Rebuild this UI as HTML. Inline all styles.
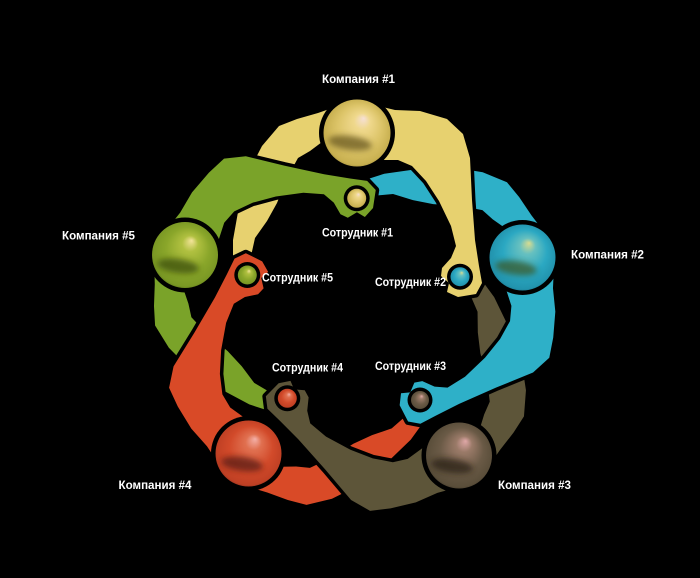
<!DOCTYPE html>
<html><head><meta charset="utf-8"><style>
html,body{margin:0;padding:0;background:#000;}
svg{display:block;}
text{font-family:"Liberation Sans","DejaVu Sans",sans-serif;font-weight:bold;font-size:11.5px;fill:#fff;}
</style></head><body>
<svg width="700" height="578" viewBox="0 0 700 578" xmlns="http://www.w3.org/2000/svg">
<rect width="700" height="578" fill="#000"/>
<defs>
  <path id="ccw" d="M338,106 L318,113 L297,119 L279,126 L262,146 L247,175 L238,212 L233,240 L233,256 L251,256 L255,238 L267,221 L277,203 L287,178 L298,158 L310,151 L322,142 L338,140 Z"/>
  <path id="cwY" d="M370,104 L395,110 L420,111 L447,119 L463,134 L470,158 L472,200 L475,240 L479,266 L482,283 L476,294 L458,297 L447,292 L449,283 L441,276 L442,268 L451,258 L456,246 L451,226 L439,201 L426,181 L412,166 L398,160 L380,160 Z"/>
  <path id="cw" d="M370,106 L394,115 L417,120 L441,130 L459,140 L468,160 L471,200 L475,240 L479,266 L482,283 L476,294 L458,297 L447,292 L449,283 L441,276 L442,268 L451,258 L456,246 L451,226 L439,201 L426,181 L412,166 L398,160 L380,160 Z"/>
  <filter id="bl" x="-50%" y="-50%" width="200%" height="200%"><feGaussianBlur stdDeviation="3"/></filter>
  <radialGradient id="gy" fx="0.6" fy="0.28" r="0.55">
    <stop offset="0" stop-color="#f6e0d6"/><stop offset="0.22" stop-color="#efd88c"/><stop offset="0.6" stop-color="#dcc468"/><stop offset="0.9" stop-color="#c8b050"/><stop offset="1" stop-color="#8f7e32"/>
  </radialGradient>
  <radialGradient id="gc" fx="0.6" fy="0.28" r="0.55">
    <stop offset="0" stop-color="#d8dc90"/><stop offset="0.22" stop-color="#66c0c0"/><stop offset="0.6" stop-color="#2ba8c2"/><stop offset="0.9" stop-color="#2294ae"/><stop offset="1" stop-color="#1a6a80"/>
  </radialGradient>
  <radialGradient id="gb" fx="0.6" fy="0.28" r="0.55">
    <stop offset="0" stop-color="#e0a8a8"/><stop offset="0.22" stop-color="#9a7a68"/><stop offset="0.6" stop-color="#6a5a46"/><stop offset="0.9" stop-color="#5a4e3a"/><stop offset="1" stop-color="#3a3224"/>
  </radialGradient>
  <radialGradient id="gr" fx="0.6" fy="0.28" r="0.55">
    <stop offset="0" stop-color="#f4b0a8"/><stop offset="0.22" stop-color="#e07050"/><stop offset="0.6" stop-color="#d24a2a"/><stop offset="0.9" stop-color="#c04024"/><stop offset="1" stop-color="#802a18"/>
  </radialGradient>
  <radialGradient id="gg" fx="0.6" fy="0.28" r="0.55">
    <stop offset="0" stop-color="#f4e49a"/><stop offset="0.22" stop-color="#b0c040"/><stop offset="0.6" stop-color="#8aa62a"/><stop offset="0.9" stop-color="#7a9824"/><stop offset="1" stop-color="#506814"/>
  </radialGradient>
  <clipPath id="cY"><circle cx="357" cy="133" r="33.5"/></clipPath>
  <clipPath id="cC"><circle cx="522.5" cy="257.5" r="33"/></clipPath>
  <clipPath id="cB"><circle cx="459" cy="455.5" r="33"/></clipPath>
  <clipPath id="cR"><circle cx="248.5" cy="453.5" r="33"/></clipPath>
  <clipPath id="cG"><circle cx="185" cy="255" r="33"/></clipPath>
</defs>

<!-- counter-clockwise arms (under) -->
<g stroke="#000" stroke-width="7" stroke-linejoin="round" paint-order="stroke">
  <use href="#ccw" fill="#e7d16f"/>
  <use href="#ccw" fill="#2eb0c8" transform="rotate(72 354.3 311)"/>
  <use href="#ccw" fill="#5d5539" transform="rotate(144 354.3 311)"/>
  <use href="#ccw" fill="#d94a27" transform="rotate(216 354.3 311)"/>
  <use href="#ccw" fill="#7aa329" transform="rotate(288 354.3 311)"/>
</g>
<!-- clockwise arms (over) -->
<g stroke="#000" stroke-width="7" stroke-linejoin="round" paint-order="stroke">
  <use href="#cwY" fill="#e7d16f"/>
  <use href="#cw" fill="#2eb0c8" transform="rotate(72 354.3 311)"/>
  <use href="#cw" fill="#5d5539" transform="rotate(144 354.3 311)"/>
  <use href="#cw" fill="#d94a27" transform="rotate(216 354.3 311)"/>
  <use href="#cw" fill="#7aa329" transform="rotate(288 354.3 311)"/>
</g>

<!-- heads -->
<circle cx="357" cy="133" r="38" fill="#000"/>
<circle cx="357" cy="133" r="33.5" fill="url(#gy)"/>
<g clip-path="url(#cY)"><ellipse cx="350" cy="143" rx="22" ry="7" fill="#6a5a22" opacity="0.75" filter="url(#bl)" transform="rotate(8 350 143)"/></g>

<circle cx="522.5" cy="257.5" r="37.5" fill="#000"/>
<circle cx="522.5" cy="257.5" r="33" fill="url(#gc)"/>
<g clip-path="url(#cC)"><ellipse cx="516" cy="268" rx="21" ry="7" fill="#3a5a2a" opacity="0.75" filter="url(#bl)" transform="rotate(8 516 268)"/></g>

<circle cx="459" cy="455.5" r="37.5" fill="#000"/>
<circle cx="459" cy="455.5" r="33" fill="url(#gb)"/>
<g clip-path="url(#cB)"><ellipse cx="452" cy="466" rx="21" ry="7" fill="#2a2216" opacity="0.75" filter="url(#bl)" transform="rotate(8 452 466)"/></g>

<circle cx="248.5" cy="453.5" r="37.5" fill="#000"/>
<circle cx="248.5" cy="453.5" r="33" fill="url(#gr)"/>
<g clip-path="url(#cR)"><ellipse cx="242" cy="464" rx="21" ry="7" fill="#5a1e14" opacity="0.75" filter="url(#bl)" transform="rotate(8 242 464)"/></g>

<circle cx="185" cy="255" r="37.5" fill="#000"/>
<circle cx="185" cy="255" r="33" fill="url(#gg)"/>
<g clip-path="url(#cG)"><ellipse cx="178" cy="266" rx="21" ry="7" fill="#3e5010" opacity="0.75" filter="url(#bl)" transform="rotate(8 178 266)"/></g>

<!-- small balls -->
<circle cx="356.7" cy="198.3" r="13" fill="#000"/>
<circle cx="356.7" cy="198.3" r="9.5" fill="url(#gy)"/>
<circle cx="460" cy="276.7" r="13" fill="#000"/>
<circle cx="460" cy="276.7" r="9.5" fill="url(#gc)"/>
<circle cx="420" cy="400" r="12.5" fill="#000"/>
<circle cx="420" cy="400" r="9" fill="url(#gb)"/>
<circle cx="287.3" cy="398.3" r="13" fill="#000"/>
<circle cx="287.3" cy="398.3" r="9.5" fill="url(#gr)"/>
<circle cx="247.3" cy="275" r="13" fill="#000"/>
<circle cx="247.3" cy="275" r="9.5" fill="url(#gg)"/>

<!-- labels -->
<text x="322" y="83" textLength="73" lengthAdjust="spacingAndGlyphs">Компания #1</text>
<text x="322" y="236.6" textLength="71" lengthAdjust="spacingAndGlyphs">Сотрудник #1</text>
<text x="571" y="258.7" textLength="73" lengthAdjust="spacingAndGlyphs">Компания #2</text>
<text x="375" y="286" textLength="71" lengthAdjust="spacingAndGlyphs">Сотрудник #2</text>
<text x="62" y="239.3" textLength="73" lengthAdjust="spacingAndGlyphs">Компания #5</text>
<text x="262" y="281.6" textLength="71" lengthAdjust="spacingAndGlyphs">Сотрудник #5</text>
<text x="272" y="371.5" textLength="71" lengthAdjust="spacingAndGlyphs">Сотрудник #4</text>
<text x="375" y="370" textLength="71" lengthAdjust="spacingAndGlyphs">Сотрудник #3</text>
<text x="118.5" y="489" textLength="73" lengthAdjust="spacingAndGlyphs">Компания #4</text>
<text x="498" y="489" textLength="73" lengthAdjust="spacingAndGlyphs">Компания #3</text>
</svg>
</body></html>
